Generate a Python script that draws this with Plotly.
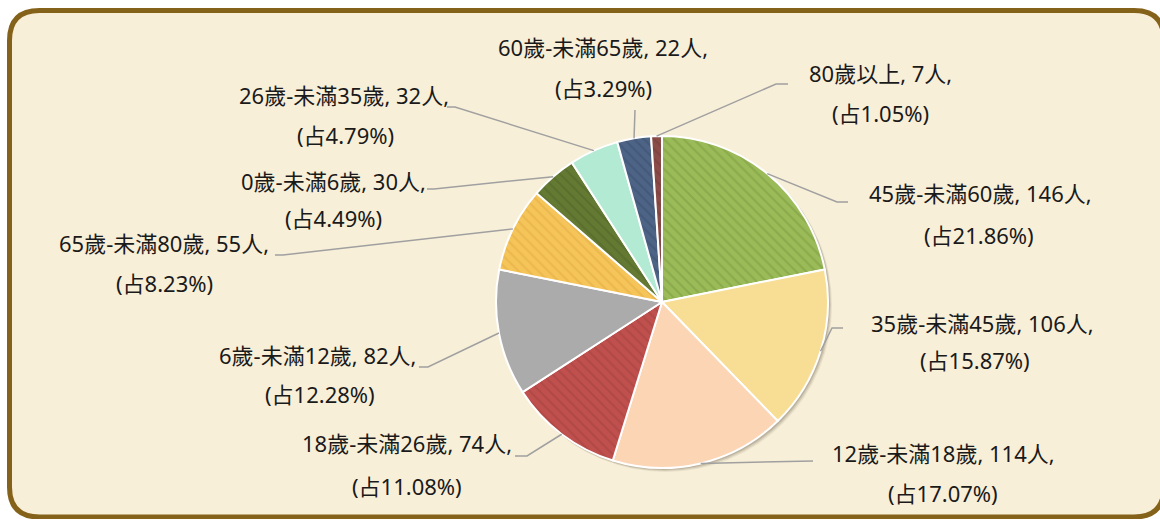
import math
import plotly.graph_objects as go

# ---- data ----
categories = ["45歲-未滿60歲", "35歲-未滿45歲", "12歲-未滿18歲", "18歲-未滿26歲",
              "6歲-未滿12歲", "65歲-未滿80歲", "0歲-未滿6歲", "26歲-未滿35歲",
              "60歲-未滿65歲", "80歲以上"]
counts = [146, 106, 114, 74, 82, 55, 30, 32, 22, 7]

# ---- styles ----
colors = ["#9BBB59", "#F8DE95", "#FCD5B5", "#C0504D", "#ABABAB",
          "#F6C55A", "#647A33", "#B3EAD4", "#4D6486", "#8B4C48"]
hatch = [True, False, False, True, False, True, True, False, True, True]
hatch_fg = ["#8AAA4B", "#F8DE95", "#FCD5B5", "#B04946", "#ABABAB",
            "#EBB84D", "#5A6E2D", "#B3EAD4", "#44597A", "#7E4440"]

W, H = 1160, 519
cx, cy, R = 662, 302, 166

# label layout (pixel positions): line1 center, line2 center, elbow points
label_layout = [
    dict(l1=(980, 193), l2=(979, 235), path=[(837, 202), (848, 202)]),
    dict(l1=(982, 323), l2=(975, 360), path=[(832, 328), (843, 328)]),
    dict(l1=(943, 453), l2=(943, 493), path=[(813, 461)]),
    dict(l1=(407, 443), l2=(407, 486), path=[(527, 456), (515, 456)]),
    dict(l1=(318, 355), l2=(320, 394), path=[(428, 367), (419, 367)]),
    dict(l1=(164, 243), l2=(164, 283), path=[(283, 255), (275, 255)]),
    dict(l1=(333, 181), l2=(333, 218), path=[(434, 189), (427, 189)]),
    dict(l1=(344, 95), l2=(345, 135), path=[(455, 107), (447, 107)]),
    dict(l1=(603, 47), l2=(603, 88), path=[(635, 110)]),
    dict(l1=(880, 73), l2=(880, 113), path=[(776, 84), (788, 84)]),
]


def px(x):
    return x / W


def py(y):
    return 1 - y / H


total = sum(counts)

fig = go.Figure()
fig.add_trace(go.Pie(
    labels=categories, values=counts, sort=False, direction="clockwise",
    rotation=0, textinfo="none", showlegend=False,
    marker=dict(colors=colors, line=dict(color="white", width=2),
                pattern=dict(shape=["\\" if h else "" for h in hatch],
                             fgcolor=hatch_fg, bgcolor=colors,
                             size=7, solidity=0.3, fillmode="replace")),
    domain=dict(x=[px(cx - R), px(cx + R)], y=[py(cy + R), py(cy - R)]),
))

shapes = []
# rounded frame
x0, y0, x1, y1, r = 9.5, 10.5, 1164, 517, 30
path = (f"M {px(x0 + r)},{py(y0)} L {px(x1 - r)},{py(y0)} "
        f"Q {px(x1)},{py(y0)} {px(x1)},{py(y0 + r)} "
        f"L {px(x1)},{py(y1 - r)} Q {px(x1)},{py(y1)} {px(x1 - r)},{py(y1)} "
        f"L {px(x0 + r)},{py(y1)} Q {px(x0)},{py(y1)} {px(x0)},{py(y1 - r)} "
        f"L {px(x0)},{py(y0 + r)} Q {px(x0)},{py(y0)} {px(x0 + r)},{py(y0)} Z")
shapes.append(dict(type="path", xref="paper", yref="paper", path=path,
                   fillcolor="#F8EFD9", line=dict(color="#85621A", width=5),
                   layer="below"))
# soft pie shadow
for off, alpha in ((4, 0.08), (3, 0.12), (2, 0.15)):
    shapes.append(dict(type="circle", xref="paper", yref="paper",
                       x0=px(cx - R + off - 1), x1=px(cx + R + off),
                       y0=py(cy + R + off), y1=py(cy - R + off - 1),
                       fillcolor=f"rgba(60,50,30,{alpha})",
                       line=dict(width=0), layer="below"))

annotations = []
cum = 0
for cat, v, lay in zip(categories, counts, label_layout):
    mid = (cum + v / 2) / total * 2 * math.pi
    cum += v
    sx = cx + R * math.sin(mid)
    sy = cy - R * math.cos(mid)
    pts = [(sx, sy)] + lay["path"]
    p = "M " + " L ".join(f"{px(a)},{py(b)}" for a, b in pts)
    shapes.append(dict(type="path", xref="paper", yref="paper", path=p,
                       line=dict(color="#A0A0A0", width=1.5), layer="above"))
    pct = v / total * 100
    for txt, pos in ((f"{cat}, {v}人,", lay["l1"]), (f"(占{pct:.2f}%)", lay["l2"])):
        annotations.append(dict(text=txt, x=px(pos[0]), y=py(pos[1]),
                                xref="paper", yref="paper", showarrow=False,
                                xanchor="center", yanchor="middle",
                                font=dict(size=22, color="#1A1A1A",
                                          family="Noto Sans, Noto Sans CJK TC")))

fig.update_layout(
    width=W, height=H, margin=dict(l=0, r=0, t=0, b=0),
    paper_bgcolor="white", plot_bgcolor="white",
    shapes=shapes, annotations=annotations,
)
fig.write_html("out.html", config={"displayModeBar": False},
               post_script="document.body.style.margin='0';"
                           "document.body.style.overflow='hidden';")
